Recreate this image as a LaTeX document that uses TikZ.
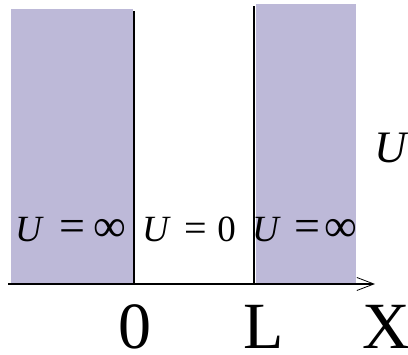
\documentclass[tikz,border=0pt]{standalone}
\usepackage{fontspec}
\setmainfont{Liberation Serif}
\usepackage{xcolor}
\usetikzlibrary{arrows.meta}
\definecolor{wandlila}{RGB}{189,185,216}

\begin{document}
\begin{tikzpicture}[x=1pt, y=1pt,
        wert/.style={anchor=base west, inner sep=0pt, font=\fontsize{37}{37}\selectfont},
        achse/.style={anchor=base west, inner sep=0pt, font=\fontsize{66}{66}\selectfont}]
        \useasboundingbox (0,0) rectangle (408,355);

        % Waende (U unendlich)
        \fill[wandlila] (11,71) rectangle (133,345.5);
        \fill[wandlila] (256,71) rectangle (356,351);

        % Achse
        \coordinate (xa) at (8,71);
        \coordinate (xe) at (375,71);
        \draw[line width=2pt, -{Straight Barb[length=17pt, width=13pt, line width=0.8pt]}] (xa) -- (xe);

        % Wandkanten bei 0 und L
        \coordinate (n0) at (134,71);
        \coordinate (n0o) at (134,344);
        \coordinate (nL) at (254,71);
        \coordinate (nLo) at (254,349);
        \draw[line width=2pt] (n0) -- (n0o);
        \draw[line width=2pt] (nL) -- (nLo);

        % Potentiale
        \node[wert] (ulinks) at (15,113) {\textit{U}\hspace{16pt}{\fontsize{46}{46}\selectfont =\hspace{8pt}∞}};
        \node[wert] (umitte) at (142,113) {\textit{U}\hspace{14pt}{\fontsize{40}{40}\selectfont =}\hspace{10pt}0};
        \node[wert] (urechts) at (252,113) {\textit{U}\hspace{14pt}{\fontsize{46}{46}\selectfont =\hspace{4pt}∞}};
        \node[anchor=base west, inner sep=0pt, font=\fontsize{45}{45}\selectfont\itshape] (uachse) at (374,192) {U};

        % Achsenbeschriftung
        \node[anchor=base, inner sep=0pt, font=\fontsize{66}{66}\selectfont] (null) at (135,6) {0};
        \node[achse] (lang) at (243,6) {L};
        \node[achse] (xlab) at (362,6) {X};
\end{tikzpicture}
\end{document}
